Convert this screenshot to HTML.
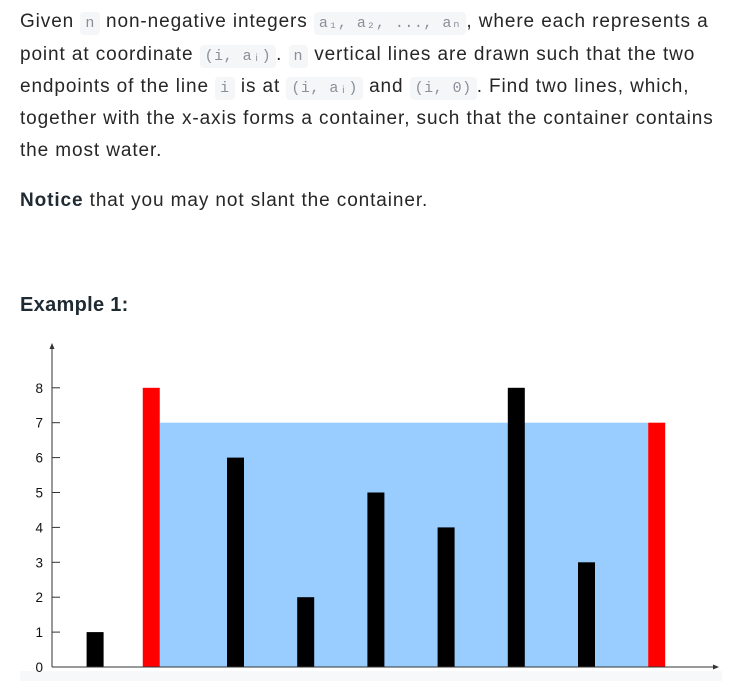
<!DOCTYPE html>
<html><head><meta charset="utf-8"><style>
body{margin:0;width:733px;height:681px;background:#fff;overflow:hidden;font-family:"Liberation Sans",sans-serif;color:#262626}
.l{position:absolute;left:20px;white-space:nowrap;font-size:19px;letter-spacing:0.9px;line-height:24px}
code{font-family:"Liberation Mono",monospace;font-size:15px;letter-spacing:0.5px;color:#8a8f99;background:#f5f6f8;padding:3px 5px;border-radius:4px}
b{color:#1f2a33}
</style></head><body>
<div>
<div class="l" style="top:10px">Given <code>n</code> non-negative integers <code>a₁, a₂, ..., aₙ</code>, where each represents a</div>
<div class="l" style="top:43px">point at coordinate <code>(i, aᵢ)</code>. <code>n</code> vertical lines are drawn such that the two</div>
<div class="l" style="top:75px">endpoints of the line <code>i</code> is at <code>(i, aᵢ)</code> and <code>(i, 0)</code>. Find two lines, which,</div>
<div class="l" style="top:107px">together with the x-axis forms a container, such that the container contains</div>
<div class="l" style="top:139px">the most water.</div>
</div>
<div class="l" style="top:189px"><b>Notice</b> that you may not slant the container.</div>
<div class="l" style="top:293px;font-weight:bold;font-size:20px;letter-spacing:0.3px;color:#1f2a33">Example 1:</div>
<div style="position:absolute;left:20px;top:671px;width:702px;height:10px;background:#f7f8fa"></div>
<svg id="chart" width="733" height="681" style="position:absolute;left:0;top:0"></svg>
<script>
const heights=[1,8,6,2,5,4,8,3,7];
const xValues=[1,1.8,3,4,5,6,7,8,9];
const yTicks=[0,1,2,3,4,5,6,7,8];
const leftIdx=1, rightIdx=8;
const svg=document.getElementById('chart');
const NS='http://www.w3.org/2000/svg';
const y=v=>667-v*34.9;
const x=v=>227+(v-3)*70.2;
const bw=17;
function mk(t,a){const e=document.createElementNS(NS,t);for(const k in a)e.setAttribute(k,a[k]);svg.appendChild(e);return e;}
const wl=Math.min(heights[leftIdx],heights[rightIdx]);
const water=mk('rect',{x:x(xValues[leftIdx])+bw,y:y(wl),width:x(xValues[rightIdx])-x(xValues[leftIdx])-bw,height:667-y(wl),fill:'#99ccff'});


heights.forEach((h,i)=>{
  const r=mk('rect',{x:x(xValues[i]),y:y(h),width:bw,height:667-y(h),fill:(i===leftIdx||i===rightIdx)?'#ff0000':'#000'});
  
  
});
const ya=mk('line',{x1:52,y1:347,x2:52,y2:667,stroke:'#333','stroke-width':1});


mk('path',{d:'M49.5 349 L52 343 L54.5 349 Z',fill:'#333'});
const xa=mk('line',{x1:52,y1:667,x2:714,y2:667,stroke:'#333','stroke-width':1});


mk('path',{d:'M713 664.5 L719 667 L713 669.5 Z',fill:'#333'});
yTicks.forEach(t=>{
  if(t>0)mk('line',{x1:52,y1:y(t),x2:60,y2:y(t),stroke:'#333','stroke-width':1});
  const tx=mk('text',{x:43,y:y(t)+5,'text-anchor':'end','font-size':'13.5','font-family':'Liberation Sans, sans-serif',fill:'#111'});
  tx.textContent=t;
  
  
});
</script>
</body></html>
